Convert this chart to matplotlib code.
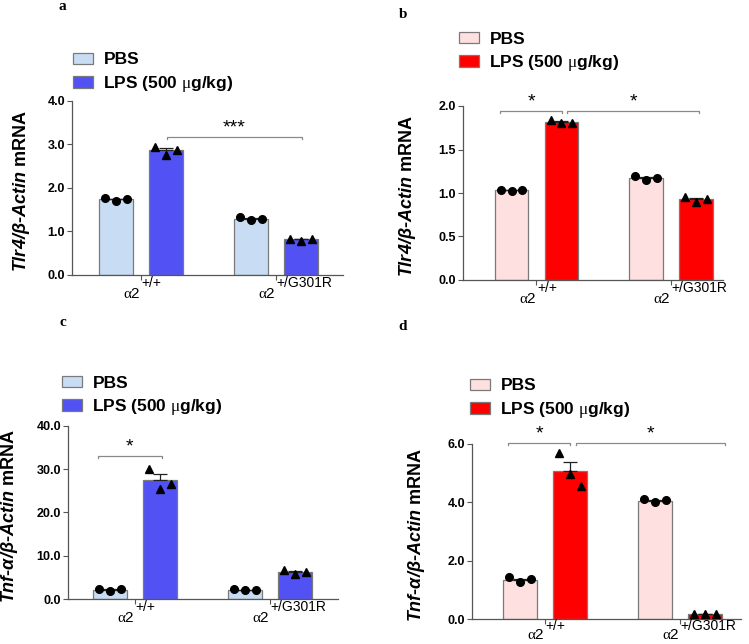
import numpy as np
import matplotlib
matplotlib.use('Agg')
import matplotlib.pyplot as plt

plt.rcParams['font.family'] = ['Liberation Sans', 'DejaVu Sans']
plt.rcParams['mathtext.fontset'] = 'custom'
plt.rcParams['mathtext.rm'] = 'Liberation Sans:italic:bold'
plt.rcParams['mathtext.it'] = 'Liberation Sans:italic:bold'
plt.rcParams['mathtext.bf'] = 'Liberation Sans:bold'
plt.rcParams['mathtext.sf'] = 'Liberation Sans'
plt.rcParams['mathtext.cal'] = 'Liberation Serif'

# ---- data --------------------------------------------------------------------------
genotypes = ['+/+', '+/G301R']
legend_labels = ['PBS', r'LPS (500 $\mathcal{\mu}$g/kg)']

# a: Tlr4, blue
a_pbs = [1.73, 1.28]
a_lps = [2.87, 0.81]
a_pbs_err = [0.02, 0.02]
a_lps_err = [0.05, 0.02]
a_pbs_pts = [[1.77, 1.69, 1.73], [1.32, 1.26, 1.27]]
a_lps_pts = [[2.94, 2.75, 2.87], [0.82, 0.78, 0.82]]

# b: Tlr4, red
b_pbs = [1.03, 1.17]
b_lps = [1.82, 0.93]
b_pbs_err = [0.01, 0.01]
b_lps_err = [0.01, 0.01]
b_pbs_pts = [[1.04, 1.02, 1.03], [1.20, 1.15, 1.17]]
b_lps_pts = [[1.84, 1.80, 1.80], [0.95, 0.90, 0.93]]

# c: Tnf-alpha, blue
c_pbs = [2.1, 2.1]
c_lps = [27.4, 6.2]
c_pbs_err = [0.1, 0.05]
c_lps_err = [1.4, 0.3]
c_pbs_pts = [[2.3, 1.9, 2.2], [2.2, 2.1, 2.1]]
c_lps_pts = [[30.0, 25.5, 26.6], [6.7, 5.7, 6.2]]

# d: Tnf-alpha, red
d_pbs = [1.34, 4.06]
d_lps = [5.07, 0.16]
d_pbs_err = [0.04, 0.02]
d_lps_err = [0.33, 0.01]
d_pbs_pts = [[1.44, 1.27, 1.36], [4.11, 4.02, 4.09]]
d_lps_pts = [[5.68, 4.96, 4.56], [0.16, 0.16, 0.16]]

# significance brackets: (x from, x to) in group units, height, label
a_sig = [((0.19, 1.19), 3.17, '***')]
b_sig = [((-0.27, 0.19), 1.946, '*'), ((0.23, 1.21), 1.946, '*')]
c_sig = [((-0.276, 0.198), 33.1, '*')]
d_sig = [((-0.274, 0.185), 6.04, '*'), ((0.227, 1.33), 6.04, '*')]

BLUE = ('#c8ddf3', '#5151f4')
RED = ('#fde0df', '#ff0000')

W, H = 749, 644
fig = plt.figure(figsize=(W/100, H/100), dpi=100)

def panel(letter, rect, xlim, ylim, yticks, ylabel, ylab_x, colors,
          pbs, lps, pbs_err, lps_err, pbs_pts, lps_pts, sig, leg_xy, let_xy,
          lab_dy=0.0):
    l, t, r, b = rect
    ax = fig.add_axes([l/W, 1 - b/H, (r - l)/W, (b - t)/H])
    x = np.arange(len(genotypes))
    off, bw = 0.185, 0.25
    ec = '#7a7a7a'
    h1 = ax.bar(x - off, pbs, bw, color=colors[0], edgecolor=ec, lw=0.9,
                label=legend_labels[0], zorder=2)
    h2 = ax.bar(x + off, lps, bw, color=colors[1], edgecolor=ec, lw=0.9,
                label=legend_labels[1], zorder=2)
    ax.errorbar(x - off, pbs, yerr=[np.zeros(len(pbs)), pbs_err], fmt='none',
                ecolor='#222222', elinewidth=0.9, capsize=5, capthick=0.9, zorder=3)
    ax.errorbar(x + off, lps, yerr=[np.zeros(len(lps)), lps_err], fmt='none',
                ecolor='#222222', elinewidth=0.9, capsize=5, capthick=0.9, zorder=3)
    jit = np.array([-0.08, 0.0, 0.08])
    for i in range(len(genotypes)):
        ax.plot(x[i] - off + jit, pbs_pts[i], 'o', color='black', ms=5.5, zorder=4,
                clip_on=False)
        ax.plot(x[i] + off + jit, lps_pts[i], '^', color='black', ms=5.5, zorder=4,
                clip_on=False)
    tick = (ylim[1] - ylim[0]) * 0.015
    for (x0, x1), yv, lab in sig:
        ax.plot([x0, x0, x1, x1], [yv - tick, yv, yv, yv - tick], color='#8a8a8a',
                lw=0.9, clip_on=False)
        ax.annotate(lab, ((x0 + x1)/2, yv), xytext=(0, 0), textcoords='offset points',
                    ha='center', va='bottom', fontsize=14, annotation_clip=False)
    ax.set_xlim(*xlim)
    ax.set_ylim(*ylim)
    ax.set_yticks(yticks)
    ax.set_yticklabels([f'{v:.1f}' for v in yticks], fontweight='bold', fontsize=9)
    ax.set_xticks(x)
    ax.set_xticklabels([])
    for i, g in enumerate(genotypes):
        ax.annotate(r'$\mathcal{\alpha}\mathsf{2}$', (x[i], 0),
                    xycoords=('data', 'axes fraction'),
                    xytext=(0, -16.5 + lab_dy), textcoords='offset points', ha='right',
                    va='baseline', fontsize=11)
        ax.annotate(g, (x[i], 0), xycoords=('data', 'axes fraction'),
                    xytext=(0.5, -8.7 + lab_dy/2), textcoords='offset points', ha='left',
                    va='baseline', fontsize=10)
    for s in ('top', 'right'):
        ax.spines[s].set_visible(False)
    for s in ('left', 'bottom'):
        ax.spines[s].set_color('#555555')
        ax.spines[s].set_linewidth(0.9)
    ax.tick_params(axis='both', length=3.5, width=0.8, color='#555555', pad=1.5)
    ax.set_ylabel(ylabel, fontsize=13, fontweight='bold')
    ax.yaxis.set_label_coords(ylab_x, 0.48)
    ax.legend(handles=[h1, h2], loc='upper left',
              bbox_to_anchor=(leg_xy[0]/W, 1 - leg_xy[1]/H), bbox_transform=fig.transFigure,
              frameon=False, prop={'weight': 'bold', 'size': 12.5}, borderpad=0,
              borderaxespad=0, handlelength=1.15, handleheight=0.65,
              handletextpad=0.6, labelspacing=0.38)
    fig.text(let_xy[0]/W, 1 - let_xy[1]/H, letter, fontsize=11, fontweight='bold',
             family='Liberation Serif', ha='center', va='center')
    return ax

panel('a', (72, 100.7, 343, 274.7), (-0.51, 1.496), (0, 4), [0, 1, 2, 3, 4],
      r'$Tlr4/\beta$-$Actin$ mRNA', -0.148, BLUE,
      a_pbs, a_lps, a_pbs_err, a_lps_err, a_pbs_pts, a_lps_pts, a_sig,
      (73, 52.5), (62, 6))
panel('b', (463, 106, 723, 280), (-0.546, 1.387), (0, 2), [0, 0.5, 1, 1.5, 2],
      r'$Tlr4/\beta$-$Actin$ mRNA', -0.173, RED,
      b_pbs, b_lps, b_pbs_err, b_lps_err, b_pbs_pts, b_lps_pts, b_sig,
      (459, 31.5), (403, 14))
panel('c', (68, 425.7, 338, 599), (-0.496, 1.504), (0, 40), [0, 10, 20, 30, 40],
      r'$Tnf$-$\alpha/\beta$-$Actin$ mRNA', -0.178, BLUE,
      c_pbs, c_lps, c_pbs_err, c_lps_err, c_pbs_pts, c_lps_pts, c_sig,
      (62, 375.5), (63, 322))
panel('d', (472, 444, 741, 619), (-0.54, 1.45), (0, 6), [0, 2, 4, 6],
      r'$Tnf$-$\alpha/\beta$-$Actin$ mRNA', -0.168, RED,
      d_pbs, d_lps, d_pbs_err, d_lps_err, d_pbs_pts, d_lps_pts, d_sig,
      (470, 378.5), (403, 326), lab_dy=2.0)

fig.savefig('out.png', dpi=100)
